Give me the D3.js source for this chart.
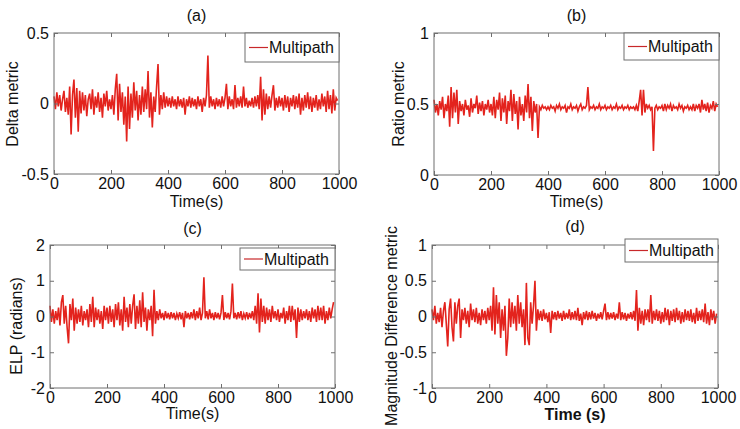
<!DOCTYPE html>
<meta charset="utf-8">
<head>
<script src="https://d3js.org/d3.v7.min.js"></script>
<style>
  body { margin: 0; background: #fff; }
  svg text { font-family: Arial, "Liberation Sans", Helvetica, sans-serif; fill: #111; }
</style>
</head>
<body>
<div class="viz"></div>
<script>
// time axis: one sample every 5 s
var times = d3.range(0, 1000, 5);
var xTicks = [0, 200, 400, 600, 800, 1000];

// (a) Delta metric
var deltaVals = [
  0.05,-0.04,0.08,-0.02,0.06,-0.05,0.03,0.09,-0.06,0.04,
  -0.08,0.12,-0.22,0.06,0.17,-0.1,0.11,-0.2,0.09,-0.07,
  0.08,-0.05,0.06,-0.09,0.03,0.07,-0.04,0.1,-0.08,0.05,
  -0.03,0.08,-0.06,0.04,-0.1,0.07,-0.02,0.09,-0.05,0.03,
  -0.04,0.06,-0.08,0.1,0.21,-0.12,0.14,-0.06,0.08,-0.15,
  0.05,-0.27,0.12,-0.18,0.07,-0.1,0.15,-0.05,0.09,-0.12,
  0.06,-0.08,0.12,-0.06,0.1,-0.04,0.23,-0.1,0.08,-0.17,
  0.05,-0.06,0.12,0.28,-0.08,0.06,-0.04,0.08,-0.03,0.05,
  -0.02,0.04,-0.03,0.05,-0.02,0.03,-0.04,0.05,-0.02,0.03,
  -0.03,0.04,-0.08,0.03,-0.02,0.05,-0.03,0.04,-0.02,0.03,
  -0.04,0.05,-0.02,0.03,-0.06,0.04,-0.02,0.06,0.34,-0.03,
  0.05,-0.02,0.03,-0.04,0.04,-0.02,0.03,-0.03,0.05,-0.02,
  0.04,0.14,-0.04,0.05,-0.02,0.03,-0.04,0.13,-0.03,0.04,
  -0.02,0.05,-0.03,0.12,-0.02,0.04,-0.03,0.02,-0.02,0.04,
  -0.03,0.05,-0.02,0.06,-0.04,0.19,-0.12,0.1,-0.08,0.07,
  -0.04,0.05,-0.03,0.06,0.13,-0.05,0.04,-0.03,0.05,-0.02,
  0.04,-0.05,0.06,-0.03,0.05,-0.06,0.04,-0.02,0.06,-0.04,
  0.05,-0.03,0.07,-0.08,0.04,-0.05,0.06,-0.03,0.08,-0.04,
  0.05,-0.06,0.04,-0.03,0.06,-0.05,0.03,-0.04,0.07,-0.02,
  0.05,-0.06,0.09,-0.04,0.06,-0.07,0.1,-0.05,0.04,0.02
];

// (b) Ratio metric
var ratioVals = [
  0.53,0.44,0.5,0.42,0.52,0.46,0.55,0.4,0.5,0.45,
  0.56,0.34,0.62,0.4,0.58,0.44,0.6,0.36,0.52,0.45,
  0.5,0.42,0.53,0.46,0.49,0.41,0.54,0.44,0.5,0.47,
  0.56,0.43,0.51,0.45,0.52,0.42,0.5,0.46,0.53,0.44,
  0.5,0.42,0.55,0.4,0.53,0.46,0.58,0.38,0.54,0.44,
  0.56,0.36,0.52,0.45,0.6,0.38,0.57,0.43,0.52,0.32,
  0.55,0.42,0.5,0.38,0.56,0.44,0.64,0.4,0.55,0.31,
  0.52,0.44,0.5,0.26,0.48,0.46,0.49,0.47,0.48,0.46,
  0.48,0.46,0.49,0.47,0.48,0.45,0.49,0.47,0.5,0.46,
  0.48,0.47,0.49,0.44,0.48,0.47,0.5,0.46,0.48,0.47,
  0.49,0.45,0.48,0.5,0.46,0.48,0.47,0.49,0.62,0.46,
  0.48,0.47,0.49,0.46,0.48,0.47,0.5,0.46,0.48,0.47,
  0.49,0.46,0.48,0.47,0.49,0.46,0.48,0.47,0.5,0.46,
  0.48,0.47,0.49,0.46,0.48,0.47,0.49,0.46,0.48,0.47,
  0.48,0.46,0.49,0.45,0.52,0.6,0.42,0.6,0.44,0.5,
  0.47,0.49,0.46,0.48,0.17,0.47,0.49,0.46,0.48,0.47,
  0.49,0.45,0.5,0.46,0.49,0.47,0.5,0.45,0.49,0.47,
  0.48,0.46,0.5,0.47,0.49,0.45,0.48,0.47,0.49,0.46,
  0.48,0.46,0.5,0.45,0.49,0.47,0.5,0.44,0.53,0.46,
  0.5,0.45,0.51,0.44,0.49,0.47,0.52,0.45,0.5,0.48
];

// (c) ELP (radians)
var elpVals = [
  0.3,-0.15,0.2,-0.2,0.15,-0.1,0.25,-0.25,0.4,0.6,
  -0.2,0.3,-0.3,-0.75,0.35,-0.1,0.5,-0.4,0.25,-0.2,
  0.2,-0.15,0.3,-0.25,0.15,-0.1,0.2,-0.3,0.35,-0.15,
  0.55,-0.3,0.25,-0.1,0.2,-0.2,0.15,-0.35,0.3,-0.1,
  0.25,-0.2,0.3,-0.15,0.2,-0.3,0.35,-0.1,0.4,-0.25,
  0.2,-0.4,0.55,-0.15,0.25,-0.3,0.35,-0.2,0.3,0.62,
  -0.35,0.3,-0.2,0.45,-0.3,0.68,-0.15,0.25,-0.4,0.2,
  -0.1,0.3,-0.55,0.75,-0.2,0.15,-0.1,0.2,-0.05,0.1,
  -0.1,0.15,-0.05,0.1,-0.08,0.12,-0.05,0.1,-0.1,0.08,
  -0.05,0.12,-0.08,0.1,-0.3,0.15,-0.05,0.1,-0.08,0.12,
  -0.05,0.2,-0.1,0.15,-0.05,0.25,-0.1,0.1,1.1,-0.05,
  0.15,-0.08,0.2,-0.05,0.1,-0.1,0.12,-0.05,0.1,-0.08,
  0.1,0.6,-0.1,0.12,-0.05,0.1,-0.08,0.15,0.92,-0.05,
  0.1,-0.08,0.12,-0.05,0.15,-0.1,0.08,-0.05,0.12,-0.08,
  0.1,-0.05,0.15,-0.1,0.3,-0.2,0.65,-0.45,0.5,-0.15,
  0.3,-0.2,0.25,-0.1,0.2,-0.15,0.3,-0.05,0.15,-0.1,
  0.2,-0.15,0.1,-0.05,0.25,-0.2,0.15,-0.1,0.3,-0.15,
  0.3,-0.1,0.2,-0.6,0.25,-0.15,0.2,-0.1,0.15,-0.05,
  0.2,-0.1,0.15,-0.15,0.25,-0.05,0.2,-0.15,0.3,-0.1,
  0.25,-0.1,0.3,-0.2,0.15,-0.1,0.25,-0.05,0.2,0.4
];

// (d) Magnitude Difference metric
var magVals = [
  0.1,-0.05,0.15,-0.1,0.05,-0.08,0.12,-0.15,0.08,0.2,
  -0.1,-0.42,0.1,0.25,-0.15,-0.35,0.2,-0.1,0.15,0.25,
  -0.3,0.1,-0.05,0.12,-0.1,0.08,-0.15,0.18,-0.05,0.1,
  -0.08,0.12,-0.1,0.05,-0.12,0.1,-0.05,0.08,-0.1,0.12,
  -0.05,0.15,-0.2,0.41,-0.25,0.3,-0.1,0.2,-0.3,0.1,
  -0.2,0.15,-0.55,-0.3,0.25,-0.15,0.2,-0.1,0.15,-0.2,
  0.3,-0.1,0.2,-0.15,0.1,-0.4,0.47,-0.3,-0.4,0.2,
  -0.1,0.15,0.5,-0.2,0.1,-0.05,0.08,-0.06,0.1,-0.04,
  0.05,-0.08,0.06,-0.23,0.08,-0.04,0.06,-0.05,0.08,-0.03,
  0.05,-0.06,0.08,-0.04,0.05,-0.03,0.1,-0.05,0.06,-0.04,
  0.08,-0.05,0.12,-0.06,0.04,-0.12,0.06,-0.04,0.08,-0.05,
  0.06,-0.04,0.08,-0.03,0.05,-0.06,0.04,-0.03,0.06,-0.04,
  0.08,0.18,-0.05,0.06,-0.04,0.05,-0.03,0.06,-0.05,0.04,
  -0.03,0.2,-0.05,0.06,-0.04,0.05,-0.06,0.04,-0.03,0.06,
  -0.04,0.08,-0.06,0.37,-0.2,0.12,-0.1,0.08,-0.12,0.1,
  -0.05,0.1,-0.08,0.3,-0.1,0.08,-0.05,0.1,-0.06,0.08,
  -0.1,0.06,-0.08,0.12,-0.05,0.1,-0.12,0.08,-0.06,0.1,
  -0.08,0.12,-0.05,0.08,-0.1,0.06,-0.08,0.1,-0.05,0.08,
  -0.06,0.1,-0.08,0.05,-0.1,0.12,-0.06,0.08,-0.05,0.1,
  -0.08,0.18,-0.1,0.06,-0.12,0.1,-0.05,0.08,-0.1,0.04
];

var titles = ["(a)", "(b)", "(c)", "(d)"];
var yLabels = ["Delta metric", "Ratio metric", "ELP (radians)", "Magnitude Difference metric"];
var xLabels = ["Time(s)", "Time(s)", "Time(s)", "Time (s)"];
var yTicksA = [-0.5, 0, 0.5];
var yTicksB = [0, 0.5, 1];
var yTicksC = [-2, -1, 0, 1, 2];
var yTicksD = [-1, -0.5, 0, 0.5, 1];
var legendLabel = "Multipath";

var width = 740, height = 429;
var lineColor = "#e3231d";
var axisColor = "#6f6f6f";

// panel boxes and label placement
var panels = [
  {vals: deltaVals, yTicks: yTicksA, dom: [-0.5, 0.5], l: 54, r: 339, t: 33, b: 174,
   titleY: 21, xlabY: 207, ylabX: 12, ylabY: 104, leg: {x: 245, y: 33, w: 94, h: 29}},
  {vals: ratioVals, yTicks: yTicksB, dom: [0, 1], l: 434, r: 719, t: 33, b: 175,
   titleY: 21, xlabY: 207, ylabX: 398, ylabY: 104, leg: {x: 624, y: 33, w: 95, h: 27}},
  {vals: elpVals, yTicks: yTicksC, dom: [-2, 2], l: 50, r: 335, t: 245, b: 388,
   titleY: 234, xlabY: 419, ylabX: 16, ylabY: 326, leg: {x: 240, y: 248, w: 95, h: 22}},
  {vals: magVals, yTicks: yTicksD, dom: [-1, 1], l: 432, r: 718, t: 245, b: 388,
   titleY: 232, xlabY: 420, ylabX: 391, ylabY: 326, leg: {x: 625, y: 239, w: 93, h: 23}}
];

var svg = d3.select("div.viz").append("svg")
  .attr("width", width)
  .attr("height", height);

panels.forEach(function(p, i) {
  var x = d3.scaleLinear().domain([0, 1000]).range([p.l, p.r]);
  var y = d3.scaleLinear().domain(p.dom).range([p.b, p.t]);
  var g = svg.append("g");

  // data line
  var line = d3.line()
    .x(function(d, j) { return x(times[j]); })
    .y(function(d) { return y(d); });
  g.append("path")
    .datum(p.vals)
    .attr("d", line)
    .attr("fill", "none")
    .attr("stroke", lineColor)
    .attr("stroke-width", 1.6)
    .attr("stroke-linejoin", "miter");

  // box
  g.append("rect")
    .attr("x", p.l).attr("y", p.t)
    .attr("width", p.r - p.l).attr("height", p.b - p.t)
    .attr("fill", "none").attr("stroke", axisColor).attr("stroke-width", 1);

  var fmt = function(d) { return String(d); };

  // axes (inward ticks like matlab)
  var xb = g.append("g").attr("transform", "translate(0," + p.b + ")")
    .call(d3.axisBottom(x).tickValues(xTicks).tickSize(-4).tickPadding(3).tickFormat(fmt));
  var xt = g.append("g").attr("transform", "translate(0," + p.t + ")")
    .call(d3.axisTop(x).tickValues(xTicks).tickSize(-4).tickFormat(""));
  var yl = g.append("g").attr("transform", "translate(" + p.l + ",0)")
    .call(d3.axisLeft(y).tickValues(p.yTicks).tickSize(-4).tickPadding(5).tickFormat(fmt));
  var yr = g.append("g").attr("transform", "translate(" + p.r + ",0)")
    .call(d3.axisRight(y).tickValues(p.yTicks).tickSize(-4).tickFormat(""));

  [xb, xt, yl, yr].forEach(function(a) {
    a.select(".domain").remove();
    a.selectAll(".tick line").attr("stroke", axisColor);
    a.selectAll(".tick text").style("font-size", "16px").attr("fill", "#111");
  });
  // bottom tick labels sit just under the axis
  xb.selectAll(".tick text").attr("y", 3).attr("dy", "0.78em");

  // title
  g.append("text")
    .attr("x", (p.l + p.r) / 2).attr("y", p.titleY)
    .attr("text-anchor", "middle")
    .style("font-size", "16px")
    .text(titles[i]);

  // x label
  g.append("text")
    .attr("x", (p.l + p.r) / 2).attr("y", p.xlabY)
    .attr("text-anchor", "middle")
    .style("font-size", "16px")
    .style("font-weight", i == 3 ? "bold" : "normal")
    .text(xLabels[i]);

  // y label
  g.append("text")
    .attr("transform", "translate(" + p.ylabX + "," + p.ylabY + ") rotate(-90)")
    .attr("text-anchor", "middle")
    .attr("dy", "0.35em")
    .style("font-size", "16px")
    .text(yLabels[i]);

  // legend
  var lg = g.append("g");
  lg.append("rect")
    .attr("x", p.leg.x).attr("y", p.leg.y)
    .attr("width", p.leg.w).attr("height", p.leg.h)
    .attr("fill", "#fff").attr("stroke", axisColor).attr("stroke-width", 1);
  var ly = p.leg.y + p.leg.h / 2;
  lg.append("line")
    .attr("x1", p.leg.x + 4).attr("x2", p.leg.x + 23)
    .attr("y1", ly).attr("y2", ly)
    .attr("stroke", "#c8282a").attr("stroke-width", 1.2);
  lg.append("text")
    .attr("x", p.leg.x + 24).attr("y", ly)
    .attr("dy", "0.35em")
    .style("font-size", "16px")
    .text(legendLabel);
});
</script>
</body>
